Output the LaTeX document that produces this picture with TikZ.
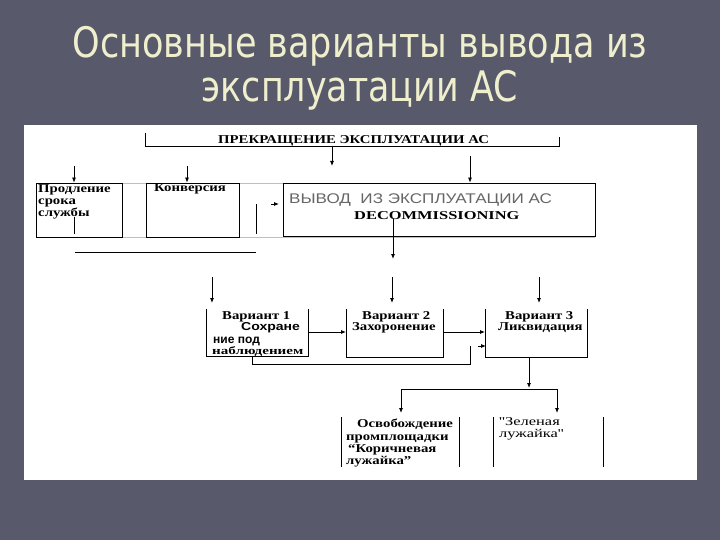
\documentclass[tikz,border=0pt]{standalone}
\usepackage{fontspec}
\setmainfont{Liberation Serif}
\newfontfamily\titlefont{DejaVu Sans}
\newfontfamily\wideserif[FakeStretch=1.23]{Liberation Serif}
\newfontfamily\wideserifb[FakeStretch=1.37]{Liberation Serif}
\newfontfamily\widesans[FakeStretch=1.22]{Liberation Sans}
\newfontfamily\sansf{Liberation Sans}
\usetikzlibrary{arrows.meta}
\definecolor{slidebg}{RGB}{88,90,108}
\definecolor{titlecol}{RGB}{240,239,205}
\tikzset{
  ln/.style={draw=black, line width=0.8pt},
  arr/.style={ln, -{Latex[length=5pt,width=4pt]}},
  faint/.style={draw=black!25, line width=0.6pt},
  txt/.style={inner sep=0pt, anchor=base west, font=\wideserif\bfseries\fontsize{12}{13}\selectfont},
  ttl/.style={text=titlecol, inner sep=0pt, anchor=base, font=\titlefont\fontsize{42}{44}\selectfont},
}
\begin{document}
\begin{tikzpicture}[x=1pt,y=-1pt]
\useasboundingbox (0,0) rectangle (720,540);
\fill[slidebg] (0,0) rectangle (720,540);
\fill[white] (24,125) rectangle (697,480);
% title
\node[ttl] (t1) at (360,58) {\scalebox{0.835}[1]{Основные варианты вывода из}};
\node[ttl] (t2) at (360,102) {\scalebox{0.83}[1]{эксплуатации АС}};
% faint grid lines
\draw[faint] (36,183) -- (595,183);
\draw[faint] (36,237) -- (595,237);
% top bracket
\coordinate (tbL) at (145,133);
\coordinate (tbR) at (559,137);
\draw[ln] (tbL) -- (145,146) -- (559,146) -- (tbR);
\node[txt] (stop) at (218,144) {ПРЕКРАЩЕНИЕ ЭКСПЛУАТАЦИИ АС};
% first row boxes
\node[ln, minimum width=86pt, minimum height=54pt, inner sep=0pt] (prod) at (79,210) {};
\node[ln, minimum width=93pt, minimum height=54pt, inner sep=0pt] (conv) at (192.5,210) {};
\node[ln, minimum width=312pt, minimum height=53pt, inner sep=0pt] (dec) at (439,209.5) {};
\node[txt] (prodt1) at (38,193) {Продление};
\node[txt] (prodt2) at (38,205) {срока};
\node[txt] (prodt3) at (38,217) {службы};
\node[txt] (convt) at (154,192) {Конверсия};
\node[inner sep=0pt, anchor=base west, font=\widesans\fontsize{14}{15}\selectfont, text=black!60] (dect1) at (289,204) {ВЫВОД\ \ ИЗ ЭКСПЛУАТАЦИИ АС};
\node[txt, font=\wideserifb\bfseries\fontsize{12}{13}\selectfont] (dect2) at (354,220) {DECOMMISSIONING};
% arrows to first row
\coordinate (a1s) at (74,166);
\coordinate (a2s) at (187,166);
\coordinate (a3s) at (470,156);
\draw[arr] (a1s) -- (a1s |- prod.north);
\draw[arr] (a2s) -- (a2s |- conv.north);
\draw[arr] (a3s) -- (a3s |- dec.north);
\coordinate (stopd) at (332,146);
\coordinate (stope) at (332,166);
\draw[arr] (stopd) -- (stope);
% stray lines
\coordinate (sa) at (271,204);
\draw[arr] (sa) -- (279,204);
\coordinate (l1a) at (74,217);
\draw[ln] (l1a) -- (74,234);
\coordinate (l2a) at (75,252);
\draw[ln] (l2a) -- (256,252);
\coordinate (l3a) at (256,204);
\draw[ln] (l3a) -- (256,234);
% decommissioning down
\coordinate (dd1) at (393,219);
\coordinate (dd2) at (393,259);
\draw[arr] (dd1) -- (dd2);
% variant boxes (open top)
\coordinate (v1a) at (206,309); \coordinate (v1b) at (308,309);
\coordinate (v2a) at (346,309); \coordinate (v2b) at (443,309);
\coordinate (v3a) at (485,309); \coordinate (v3b) at (587,309);
\draw[ln] (v1a) -- (206,356) -- (308,356) -- (v1b);
\draw[ln] (v2a) -- (346,357) -- (443,357) -- (v2b);
\draw[ln] (v3a) -- (485,357) -- (587,357) -- (v3b);
\draw[arr] (212,277) -- (212,303);
\draw[arr] (392,277) -- (392,303);
\draw[arr] (539,277) -- (539,303);
\node[txt] (v1t1) at (222,319) {Вариант 1};
\node[inner sep=0pt, anchor=base west, font=\widesans\bfseries\fontsize{11.5}{12}\selectfont] (v1t2) at (241,330) {Сохране};
\node[inner sep=0pt, anchor=base west, font=\sansf\bfseries\fontsize{12}{13}\selectfont] (v1t3) at (213,343) {ние под};
\node[txt, font=\wideserifb\bfseries\fontsize{11}{12}\selectfont] (v1t4) at (212,354) {наблюдением};
\node[txt] (v2t1) at (362,319) {Вариант 2};
\node[txt] (v2t2) at (352,330) {Захоронение};
\node[txt] (v3t1) at (505,319) {Вариант 3};
\node[txt] (v3t2) at (498,330) {Ликвидация};
% horizontal arrows between variants
\draw[arr] (v1b |- 0,332) -- (v2a |- 0,332);
\draw[arr] (v2b |- 0,332) -- (v3a |- 0,332);
\coordinate (sb) at (478,346);
\draw[arr] (sb) -- (486,346);
\coordinate (fb1) at (252,356);
\coordinate (fb2) at (470,346);
\draw[ln] (fb1) -- (252,364) -- (470,364) -- (fb2);
% liquidation split
\coordinate (lq1) at (529,357);
\coordinate (lq2) at (529,388);
\draw[arr] (lq1) -- (lq2);
\coordinate (spL) at (401,389);
\coordinate (spR) at (557,389);
\draw[ln] (spL) -- (spR);
\draw[arr] (spL) -- (401,413);
\draw[arr] (spR) -- (557,413);
% bottom boxes (sides only)
\draw[ln] (341,417) -- (341,467);
\draw[ln] (459,417) -- (459,467);
\draw[ln] (493,417) -- (493,467);
\draw[ln] (603,417) -- (603,467);
\node[txt] (o1) at (357,427) {Освобождение};
\node[txt] (o2) at (346,440) {промплощадки};
\node[txt] (o3) at (348,452) {“Коричневая};
\node[txt] (o4) at (346,464) {лужайка”};
\node[txt, font=\wideserifb\fontsize{12}{13}\selectfont] (g1) at (499,425) {''Зеленая};
\node[txt, font=\wideserifb\fontsize{12}{13}\selectfont] (g2) at (499,437) {лужайка''};
\end{tikzpicture}
\end{document}
